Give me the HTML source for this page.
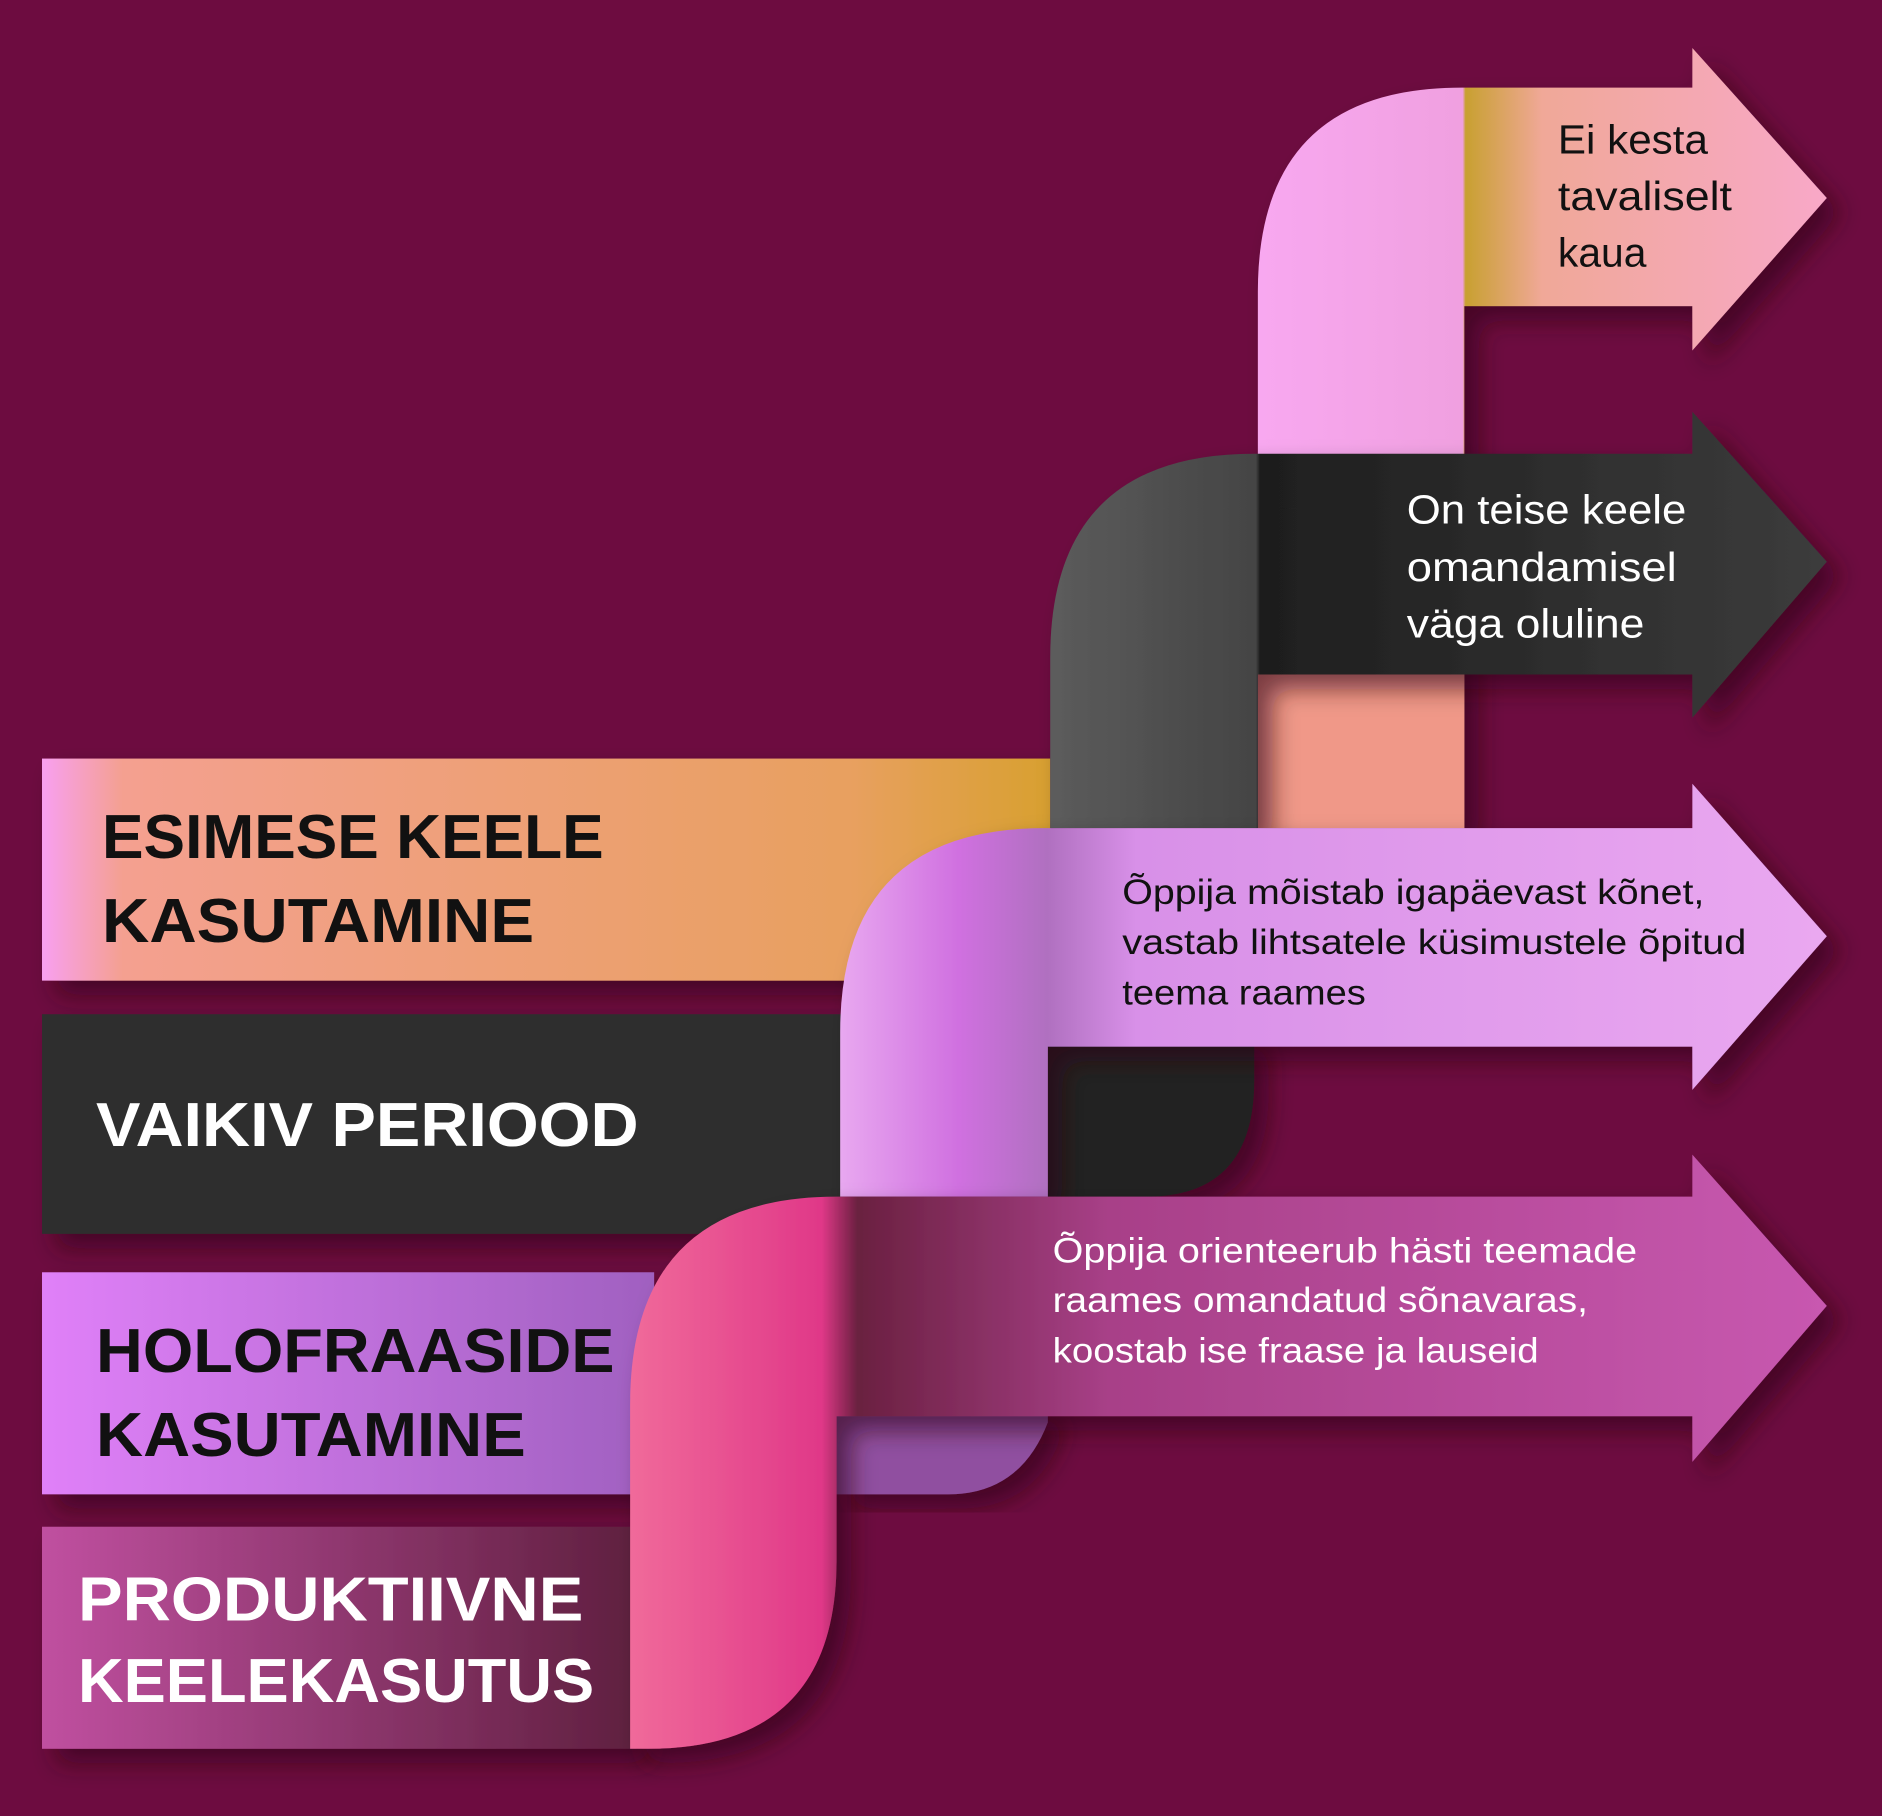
<!DOCTYPE html>
<html><head><meta charset="utf-8"><style>
html,body{margin:0;padding:0;background:#6d0c40;}
svg{display:block;}
.lbl{font-family:"Liberation Sans",sans-serif;font-weight:bold;font-size:52px;}
.rt{font-family:"Liberation Sans",sans-serif;font-size:34px;}
.rs{font-family:"Liberation Sans",sans-serif;font-size:29px;}
</style></head><body>
<svg width="1882" height="1816" viewBox="0 0 1568 1513" preserveAspectRatio="none" xmlns="http://www.w3.org/2000/svg">
<defs>
<filter id="sh" x="-10%" y="-10%" width="130%" height="130%"><feDropShadow dx="12" dy="12" stdDeviation="10" flood-color="#2a0016" flood-opacity="0.6"/></filter>
<linearGradient id="b1" x1="35" x2="875" gradientUnits="userSpaceOnUse"><stop offset="0" stop-color="#f8a0f0"/><stop offset="0.08" stop-color="#f4a090"/><stop offset="0.8" stop-color="#e8a060"/><stop offset="1" stop-color="#d8a030"/></linearGradient>
<linearGradient id="b3" x1="35" x2="545" gradientUnits="userSpaceOnUse"><stop offset="0" stop-color="#e080f8"/><stop offset="1" stop-color="#a060c0"/></linearGradient>
<linearGradient id="b4" x1="35" x2="525" gradientUnits="userSpaceOnUse"><stop offset="0" stop-color="#c050a0"/><stop offset="1" stop-color="#602040"/></linearGradient>
<linearGradient id="a1" x1="1048" x2="1522" gradientUnits="userSpaceOnUse"><stop offset="0" stop-color="#f8a8f0"/><stop offset="0.36" stop-color="#f0a0e0"/><stop offset="0.365" stop-color="#c8a030"/><stop offset="0.5" stop-color="#f0a898"/><stop offset="1" stop-color="#f8a8c8"/></linearGradient>
<linearGradient id="a2" x1="875" x2="1522" gradientUnits="userSpaceOnUse"><stop offset="0" stop-color="#5c5c5c"/><stop offset="0.265" stop-color="#444"/><stop offset="0.27" stop-color="#1e1e1e"/><stop offset="1" stop-color="#3c3c3c"/></linearGradient>
<linearGradient id="a3" x1="700" x2="1522" gradientUnits="userSpaceOnUse"><stop offset="0" stop-color="#e8a8f0"/><stop offset="0.12" stop-color="#d070e0"/><stop offset="0.21" stop-color="#b070c0"/><stop offset="0.3" stop-color="#d890e8"/><stop offset="1" stop-color="#eaa8f0"/></linearGradient>
<linearGradient id="a4" x1="525" x2="1522" gradientUnits="userSpaceOnUse"><stop offset="0" stop-color="#f06a9a"/><stop offset="0.16" stop-color="#e03888"/><stop offset="0.19" stop-color="#6a2040"/><stop offset="0.4" stop-color="#a84088"/><stop offset="1" stop-color="#c858b0"/></linearGradient>
</defs>
<rect width="1568" height="1513" fill="#6d0c40"/>
<rect x="35" y="632" width="840" height="185" fill="url(#b1)" filter="url(#sh)"/>
<rect x="35" y="845" width="670" height="183" fill="#2e2e2e" filter="url(#sh)"/>
<rect x="35" y="1060" width="510" height="185" fill="url(#b3)" filter="url(#sh)"/>
<rect x="35" y="1272" width="495" height="185" fill="url(#b4)" filter="url(#sh)"/>
<path d="M1048,690 L1048,243 Q1048,73 1218,73 L1410,73 L1410,40 L1522,165 L1410,292 L1410,255 L1220,255 L1220,690 Z" fill="url(#a1)" filter="url(#sh)"/>
<rect x="1048" y="560" width="172" height="130" fill="#f09888"/>
<path d="M875,690 L875,548 Q875,378 1045,378 L1410,378 L1410,343 L1522,468 L1410,598 L1410,562 L1048,562 L1048,690 Z" fill="url(#a2)" filter="url(#sh)"/>
<path d="M873,860 L1045,860 L1045,900 Q1045,997 955,997 L873,997 Z" fill="#222" filter="url(#sh)"/>
<path d="M700,997 L700,860 Q700,690 870,690 L1410,690 L1410,653 L1522,780 L1410,908 L1410,872 L873,872 L873,997 Z" fill="url(#a3)" filter="url(#sh)"/>
<path d="M697,1170 L873,1170 L873,1185 Q850,1245 790,1245 L697,1245 Z" fill="#9050a0" filter="url(#sh)"/>
<path d="M525,1457 L525,1170 Q525,997 697,997 L1410,997 L1410,962 L1522,1088 L1410,1218 L1410,1180 L697,1180 L697,1300 Q697,1457 540,1457 Z" fill="url(#a4)" filter="url(#sh)"/>
<text class="lbl" x="85" y="715" fill="#111" textLength="418" lengthAdjust="spacingAndGlyphs">ESIMESE KEELE</text>
<text class="lbl" x="85" y="785" fill="#111" textLength="360" lengthAdjust="spacingAndGlyphs">KASUTAMINE</text>
<text class="lbl" x="80" y="955" fill="#fff" textLength="452" lengthAdjust="spacingAndGlyphs">VAIKIV PERIOOD</text>
<text class="lbl" x="80" y="1143" fill="#111" textLength="432" lengthAdjust="spacingAndGlyphs">HOLOFRAASIDE</text>
<text class="lbl" x="80" y="1213" fill="#111" textLength="358" lengthAdjust="spacingAndGlyphs">KASUTAMINE</text>
<text class="lbl" x="65" y="1350" fill="#fff" textLength="421" lengthAdjust="spacingAndGlyphs">PRODUKTIIVNE</text>
<text class="lbl" x="65" y="1418" fill="#fff" textLength="430" lengthAdjust="spacingAndGlyphs">KEELEKASUTUS</text>
<text class="rt" x="1298" y="128" fill="#111" textLength="125" lengthAdjust="spacingAndGlyphs">Ei kesta</text>
<text class="rt" x="1298" y="175" fill="#111" textLength="145" lengthAdjust="spacingAndGlyphs">tavaliselt</text>
<text class="rt" x="1298" y="222" fill="#111">kaua</text>
<text class="rt" x="1172" y="436" fill="#fff" textLength="233" lengthAdjust="spacingAndGlyphs">On teise keele</text>
<text class="rt" x="1172" y="484" fill="#fff" textLength="225" lengthAdjust="spacingAndGlyphs">omandamisel</text>
<text class="rt" x="1172" y="531" fill="#fff" textLength="198" lengthAdjust="spacingAndGlyphs">väga oluline</text>
<text class="rs" x="935" y="753" fill="#111" textLength="485" lengthAdjust="spacingAndGlyphs">Õppija mõistab igapäevast kõnet,</text>
<text class="rs" x="935" y="795" fill="#111" textLength="520" lengthAdjust="spacingAndGlyphs">vastab lihtsatele küsimustele õpitud</text>
<text class="rs" x="935" y="837" fill="#111" textLength="203" lengthAdjust="spacingAndGlyphs">teema raames</text>
<text class="rs" x="877" y="1052" fill="#fff" textLength="487" lengthAdjust="spacingAndGlyphs">Õppija orienteerub hästi teemade</text>
<text class="rs" x="877" y="1093" fill="#fff" textLength="446" lengthAdjust="spacingAndGlyphs">raames omandatud sõnavaras,</text>
<text class="rs" x="877" y="1135" fill="#fff" textLength="405" lengthAdjust="spacingAndGlyphs">koostab ise fraase ja lauseid</text>
</svg>
</body></html>
